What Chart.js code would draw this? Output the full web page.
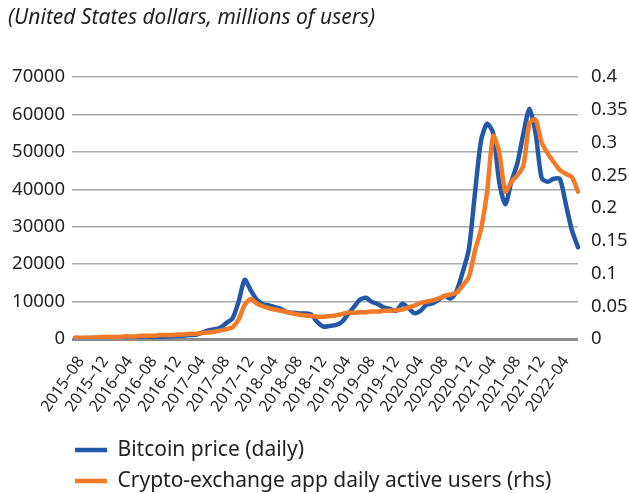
<!DOCTYPE html>
<html>
<head>
<meta charset="utf-8">
<title>Bitcoin price and crypto-exchange app users</title>
<script src="https://cdn.jsdelivr.net/npm/chart.js@4.4.1/dist/chart.umd.min.js"></script>
<style>
    html, body { margin: 0; padding: 0; background: #ffffff; }
    canvas { display: block; }
</style>
</head>
<body>
<canvas id="cryptoChart" width="629" height="493"></canvas>
<script>
// monthly points, only every 4th label is shown on the axis
const months = [
    '2015–07', '2015–08', '2015–09', '2015–10', '2015–11', '2015–12',
    '2016–01', '2016–02', '2016–03', '2016–04', '2016–05', '2016–06', '2016–07', '2016–08', '2016–09', '2016–10', '2016–11', '2016–12',
    '2017–01', '2017–02', '2017–03', '2017–04', '2017–05', '2017–06', '2017–07', '2017–08', '2017–09', '2017–10', '2017–11', '2017–12',
    '2018–01', '2018–02', '2018–03', '2018–04', '2018–05', '2018–06', '2018–07', '2018–08', '2018–09', '2018–10', '2018–11', '2018–12',
    '2019–01', '2019–02', '2019–03', '2019–04', '2019–05', '2019–06', '2019–07', '2019–08', '2019–09', '2019–10', '2019–11', '2019–12',
    '2020–01', '2020–02', '2020–03', '2020–04', '2020–05', '2020–06', '2020–07', '2020–08', '2020–09', '2020–10', '2020–11', '2020–12',
    '2021–01', '2021–02', '2021–03', '2021–04', '2021–05', '2021–06', '2021–07', '2021–08', '2021–09', '2021–10', '2021–11', '2021–12',
    '2022–01', '2022–02', '2022–03', '2022–04', '2022–05', '2022–06'
];

// US dollars
const bitcoinPrice = [
    280, 230, 240, 300, 380, 420,
    410, 400, 420, 440, 500, 650, 660, 580, 600, 650, 720, 850,
    900, 1050, 1150, 1700, 2300, 2600, 3000, 4300, 5500, 10000, 15800, 13000,
    10500, 9300, 9000, 8500, 8000, 7200, 7000, 6800, 6800, 6500, 4500, 3300,
    3500, 3700, 4500, 6500, 8500, 10500, 11000, 9900, 9300, 8400, 8000, 7500,
    9400, 8300, 6900, 7500, 9200, 9500, 10500, 11500, 10800, 13000, 18000, 24000,
    39000, 53000, 57500, 55000, 42000, 36000, 42000, 47000, 55000, 61500, 55000, 43000,
    42000, 42800, 42800, 36000, 29000, 24500
];

// millions of users (rhs)
const appUsers = [
    0.002, 0.002, 0.002, 0.002, 0.003, 0.003,
    0.003, 0.003, 0.004, 0.004, 0.004, 0.005, 0.005, 0.005, 0.006, 0.006, 0.006, 0.007,
    0.007, 0.008, 0.008, 0.009, 0.010, 0.011, 0.013, 0.015, 0.018, 0.030, 0.052, 0.061,
    0.054, 0.050, 0.047, 0.045, 0.043, 0.041, 0.039, 0.037, 0.036, 0.035, 0.034, 0.034,
    0.035, 0.036, 0.038, 0.040, 0.040, 0.041, 0.041, 0.042, 0.042, 0.043, 0.043, 0.044,
    0.045, 0.048, 0.051, 0.055, 0.057, 0.059, 0.062, 0.066, 0.068, 0.071, 0.082, 0.095,
    0.135, 0.168, 0.225, 0.310, 0.285, 0.225, 0.240, 0.250, 0.265, 0.330, 0.335, 0.300,
    0.283, 0.270, 0.258, 0.252, 0.247, 0.225
];

const seriesNames = ['Bitcoin price (daily)', 'Crypto-exchange app daily active users (rhs)'];
const chartTitle = '(United States dollars, millions of users)';

const textColor = '#231f20';
const fontFamily = '"Noto Sans", "Open Sans", sans-serif';

// nudge title and legend to where the original has them
const blockOffsets = {
    id: 'blockOffsets',
    afterLayout(chart) {
        chart.titleBlock.left = 8;
        chart.legend.left = 65;
        chart.legend.top = 429.5;
    }
};

const ctx = document.getElementById('cryptoChart').getContext('2d');
const cryptoChart = new Chart(ctx, {
    type: 'line',
    data: {
        labels: months,
        datasets: [{
            label: seriesNames[0],
            data: bitcoinPrice,
            yAxisID: 'y',
            borderColor: '#2358a8',
            backgroundColor: '#2358a8',
            borderWidth: 4.5,
            borderCapStyle: 'round',
            borderJoinStyle: 'round',
            pointRadius: 0,
            tension: 0.25,
            order: 1
        }, {
            label: seriesNames[1],
            data: appUsers,
            yAxisID: 'y1',
            borderColor: '#f47a28',
            backgroundColor: '#f47a28',
            borderWidth: 4.5,
            borderCapStyle: 'round',
            borderJoinStyle: 'round',
            pointRadius: 0,
            tension: 0.25,
            order: 0
        }]
    },
    options: {
        responsive: false,
        animation: false,
        devicePixelRatio: 1,
        layout: {
            padding: 0
        },
        scales: {
            x: {
                grid: { display: false },
                border: { display: false },
                ticks: {
                    autoSkip: false,
                    minRotation: 55,
                    maxRotation: 55,
                    padding: 6,
                    color: textColor,
                    font: { family: fontFamily, size: 16 },
                    callback: function (value, index) {
                        return index % 4 === 1 ? months[index] : '';
                    }
                },
                afterFit: function (scale) {
                    scale.height = 82;
                }
            },
            y: {
                position: 'left',
                min: 0,
                max: 70000,
                border: { display: false },
                grid: {
                    drawTicks: true,
                    tickLength: 3,
                    color: function (c) {
                        return c.tick && c.tick.value === 0 ? '#8c8c8c' : '#a9a9a9';
                    },
                    lineWidth: function (c) {
                        return c.tick && c.tick.value === 0 ? 3 : 1.5;
                    }
                },
                ticks: {
                    stepSize: 10000,
                    padding: 7,
                    color: textColor,
                    font: { family: fontFamily, size: 18.5 },
                    callback: function (value) {
                        return String(value);
                    }
                },
                afterFit: function (scale) {
                    scale.width = 75;
                }
            },
            y1: {
                position: 'right',
                min: 0,
                max: 0.4,
                border: { display: false },
                grid: { display: false, drawTicks: false },
                ticks: {
                    stepSize: 0.05,
                    padding: 13,
                    color: textColor,
                    font: { family: fontFamily, size: 18.5 },
                    callback: function (value) {
                        return String(+value.toFixed(2));
                    }
                },
                afterFit: function (scale) {
                    scale.width = 51;
                }
            }
        },
        plugins: {
            title: {
                display: true,
                text: chartTitle,
                align: 'start',
                color: textColor,
                font: { family: fontFamily, size: 21, style: 'italic', weight: 'normal' },
                padding: { top: 5.4, bottom: 46.4 }
            },
            legend: {
                display: true,
                position: 'bottom',
                align: 'start',
                labels: {
                    usePointStyle: true,
                    pointStyle: 'line',
                    pointStyleWidth: 32,
                    padding: 10,
                    color: textColor,
                    font: { family: fontFamily, size: 21 },
                    sort: function (a, b) {
                        return a.datasetIndex - b.datasetIndex;
                    }
                }
            },
            tooltip: { enabled: false }
        }
    },
    plugins: [blockOffsets]
});
</script>
</body>
</html>
